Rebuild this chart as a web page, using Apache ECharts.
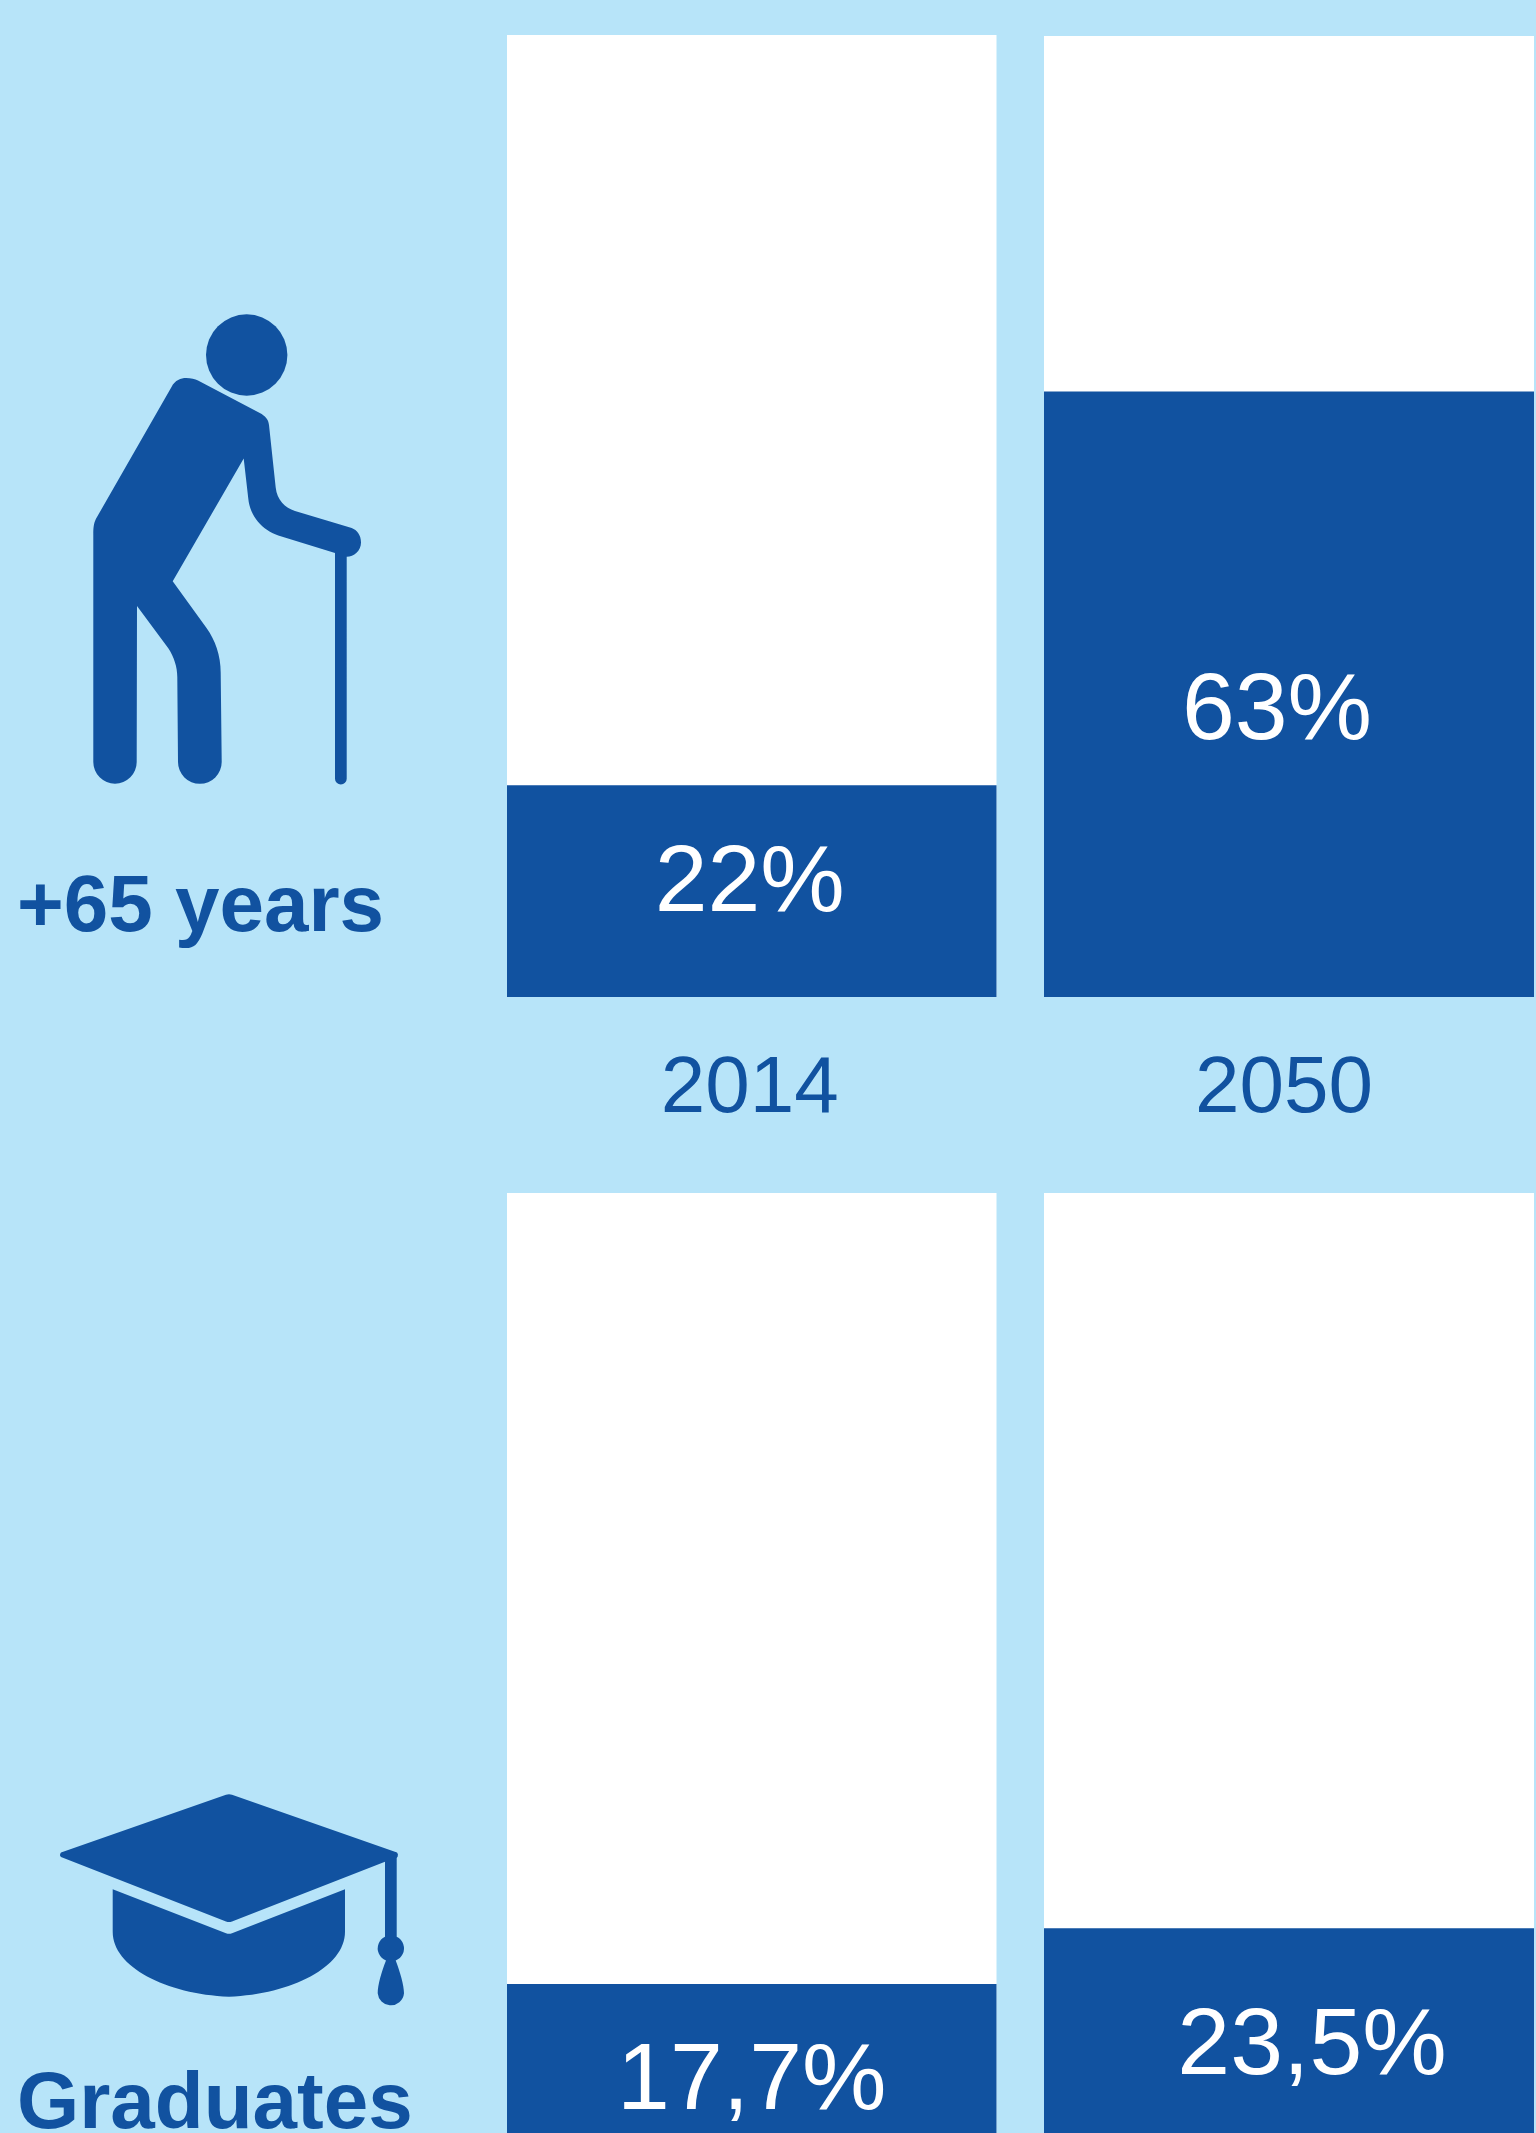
<!DOCTYPE html>
<html>
<head>
<meta charset="utf-8">
<title>+65 years and graduates, 2014 and 2050</title>
<style>
  html, body { margin: 0; padding: 0; background: #b7e4f9; }
  #chart { width: 1536px; height: 2133px; }
</style>
<script src="https://cdn.jsdelivr.net/npm/echarts@6/dist/echarts.min.js"></script>
</head>
<body>
<div id="chart"></div>
<script>
// Share of the population, in percent, per group and year.
const years = ['2014', '2050'];
const seniors = [22, 63];
const graduates = [17.7, 23.5];
const groupNames = ['+65 years', 'Graduates'];

const SKY = '#b7e4f9';
const NAVY = '#1152a0';
const FONT = '"Liberation Sans", Arial, sans-serif';

// Pictograms beside each row of panels.
echarts.graphic.registerShape('elderBody', echarts.graphic.extendPath(
  'M93.3 762 L93.3 535 C93.3 526 94 522 97 517 L171.5 387 C175 380 181 378 186 378 ' +
  'C191 378 195 379 198 380.4 L261.7 414 C266 417 268.5 420 269 425 L275.7 487.6 ' +
  'C277 500 285 508 295 511 L351.7 528 C357 530 361 535 361 542.5 C361 551 354 556.8 346.7 556.8 ' +
  'L346.7 778.7 A5.85 5.85 0 0 1 335 778.7 L335 553 L278.3 535.4 C262 530 250 516 248.3 498.8 ' +
  'L243.7 458.6 L172.7 581.3 L206.7 628.2 C215 640 220.7 655 220.7 672.9 L221.7 762 ' +
  'A21.85 21.85 0 0 1 178 762 L177.3 677.3 C177.3 667 174 657 168.3 648.3 L137 605.9 L136.7 762 ' +
  'A21.7 21.7 0 0 1 93.3 762 Z'
));
echarts.graphic.registerShape('capBoard', echarts.graphic.extendPath(
  'M61 1852.5 L226 1794.7 Q229 1793.8 232 1794.7 L397 1852.5 Q398.5 1854 397.7 1856.5 L396.7 1858 ' +
  'L396.7 1936.7 A13 13 0 0 1 395.7 1960.5 C400 1972 404 1985 404 1993.3 A13.2 13.2 0 0 1 377.7 1993.3 ' +
  'C377.7 1985 381.5 1972 386 1960.5 A13 13 0 0 1 385 1936.7 L385 1861.7 L232 1921.5 Q229 1922.5 226 1921.5 ' +
  'L61 1857 Q59 1855 61 1852.5 Z'
));
echarts.graphic.registerShape('capBody', echarts.graphic.extendPath(
  'M112.7 1889.3 L226 1933.3 Q229 1934.3 232 1933.3 L345 1889.3 L345 1931.7 ' +
  'C345 1967 292 1994 229 1996.7 C166 1994 112.7 1967 112.7 1931.7 Z'
));

// One panel per group and year: left, top, width, height, label nudge, year nudge.
const panels = [
  { values: seniors,   i: 0, left: 507,  top: 35,   width: 489.5, height: 962, nudge: [-2, -6], yearPad: 4 },
  { values: seniors,   i: 1, left: 1044, top: 36,   width: 490,   height: 961, nudge: [-12, 19], yearPad: 10 },
  { values: graduates, i: 0, left: 507,  top: 1193, width: 489.5, height: 961, nudge: [0, 14], yearPad: 0, noYear: true },
  { values: graduates, i: 1, left: 1044, top: 1193, width: 490,   height: 961, nudge: [23, 7], yearPad: 0, noYear: true }
];

const percent = (v) => String(v).replace('.', ',') + '%';

const option = {
  backgroundColor: SKY,
  animation: false,
  grid: panels.map((p) => ({
    left: p.left, top: p.top, width: p.width, height: p.height,
    containLabel: false,
    outerBoundsMode: 'none'
  })),
  xAxis: panels.map((p, k) => ({
    type: 'category',
    gridIndex: k,
    data: [years[p.i]],
    axisLine: { show: false },
    axisTick: { show: false },
    axisLabel: {
      show: !p.noYear,
      color: NAVY,
      fontFamily: FONT,
      fontSize: 80,
      margin: 53,
      padding: [0, p.yearPad, 0, 0]
    }
  })),
  yAxis: panels.map((p, k) => ({
    type: 'value',
    gridIndex: k,
    min: 0,
    max: 100,
    show: false
  })),
  series: panels.map((p, k) => ({
    type: 'bar',
    name: groupNames[k < 2 ? 0 : 1],
    xAxisIndex: k,
    yAxisIndex: k,
    barWidth: '100%',
    clip: false,
    showBackground: true,
    backgroundStyle: { color: '#ffffff' },
    itemStyle: { color: NAVY },
    label: {
      show: true,
      position: 'inside',
      offset: p.nudge,
      color: '#ffffff',
      fontFamily: FONT,
      fontSize: 95,
      formatter: (d) => percent(d.value)
    },
    data: [p.values[p.i]]
  })),
  graphic: [
    { type: 'circle', silent: true, shape: { cx: 246.7, cy: 355, r: 40.7 }, style: { fill: NAVY } },
    { type: 'elderBody', silent: true, style: { fill: NAVY } },
    { type: 'capBoard', silent: true, style: { fill: NAVY } },
    { type: 'capBody', silent: true, style: { fill: NAVY } },
    // Group names
    {
      type: 'text', silent: true, left: 17, top: 869,
      style: { text: groupNames[0], fill: NAVY, fontFamily: FONT, fontWeight: 'bold', fontSize: 80 }
    },
    {
      type: 'text', silent: true, left: 17, top: 2066,
      style: { text: groupNames[1], fill: NAVY, fontFamily: FONT, fontWeight: 'bold', fontSize: 80 }
    }
  ]
};

echarts.init(document.getElementById('chart')).setOption(option);
</script>
</body>
</html>
